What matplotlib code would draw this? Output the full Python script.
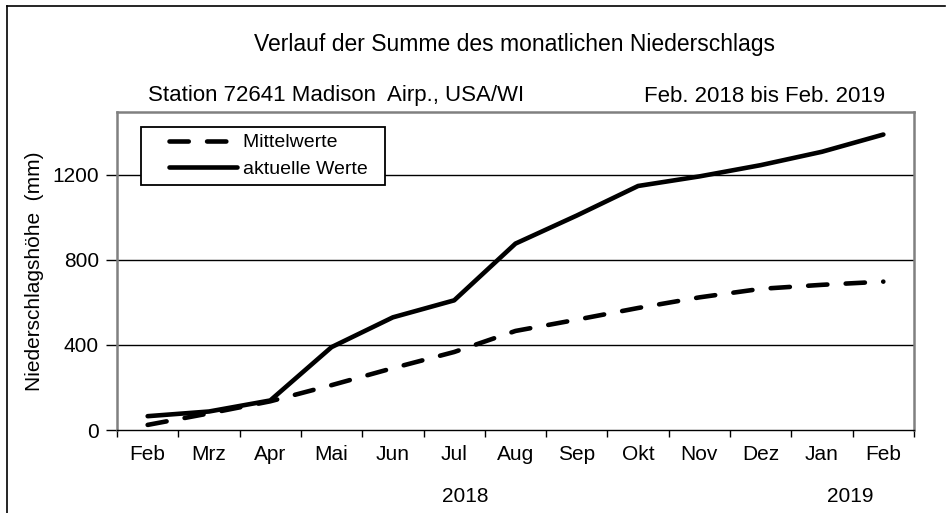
import matplotlib
matplotlib.use("Agg")
import matplotlib.pyplot as plt
from matplotlib.lines import Line2D
from matplotlib.legend_handler import HandlerLine2D

plt.rcParams['font.family'] = ['Liberation Sans', 'DejaVu Sans']

months = ["Feb", "Mrz", "Apr", "Mai", "Jun", "Jul", "Aug", "Sep", "Okt", "Nov", "Dez", "Jan", "Feb"]
mittelwerte = [24, 78, 135, 211, 291, 367, 466, 519, 574, 624, 664, 683, 698]
aktuelle = [65, 87, 139, 390, 530, 610, 877, 1009, 1148, 1193, 1246, 1309, 1390]
yticks = [0, 400, 800, 1200]

W, H = 947, 513
fig = plt.figure(figsize=(W / 100, H / 100), dpi=100)
ax = fig.add_axes([117 / W, (H - 430) / H, (914 - 117) / W, (430 - 112) / H])

x = list(range(len(months)))
l1, = ax.plot(x, mittelwerte, color="black", lw=3.3, dashes=(4.2, 4.0),
              dash_capstyle="round", label="Mittelwerte", zorder=3)
l2, = ax.plot(x, aktuelle, color="black", lw=3.3, solid_capstyle="round",
              solid_joinstyle="round", label="aktuelle Werte", zorder=3)

ax.set_xlim(-0.5, len(months) - 0.5)
ax.set_ylim(0, 1496)
ax.set_yticks(yticks)
ax.set_yticklabels([str(v) for v in yticks], fontsize=15)
for v in yticks[1:]:
    ax.axhline(v, color="black", lw=1.0, zorder=1)

ax.set_xticks(x)
ax.set_xticklabels(months, fontsize=15)
ax.set_xticks([i - 0.5 for i in range(len(months) + 1)], minor=True)
ax.tick_params(axis="x", which="major", length=0, pad=11)
ax.tick_params(axis="x", which="minor", length=5, width=1.0, direction="out", color="black")
ax.tick_params(axis="y", length=8, width=1.0, direction="out", color="black", pad=5)

for s in ["left", "right", "top"]:
    ax.spines[s].set_color("#808080")
    ax.spines[s].set_linewidth(1.8)
ax.spines["bottom"].set_color("black")
ax.spines["bottom"].set_linewidth(1.0)

ax.set_ylabel("Niederschlagshöhe  (mm)", fontsize=15, labelpad=6)

fs_leg = 14
xpad = 1.1
leg = ax.legend([l1, l2], ["Mittelwerte  ", "aktuelle Werte  "],
                loc="upper left",
                bbox_to_anchor=((141 - 117) / (914 - 117), (430 - 127) / (430 - 112)),
                fontsize=fs_leg, frameon=True, fancybox=False, edgecolor="black",
                framealpha=1.0,
                handlelength=3.5 + xpad, handletextpad=0.3, borderpad=0.35, labelspacing=0.45,
                borderaxespad=0,
                handler_map={Line2D: HandlerLine2D(xpad=xpad)})
leg.get_frame().set_linewidth(1.3)
leg.set_zorder(5)

fig.text(514 / W, 1 - 45 / H, "Verlauf der Summe des monatlichen Niederschlags",
         ha="center", va="center", fontsize=16.5)
fig.text(148 / W, 1 - 96 / H, "Station 72641 Madison  Airp., USA/WI",
         ha="left", va="center", fontsize=16)
fig.text(885 / W, 1 - 96 / H, "Feb. 2018 bis Feb. 2019",
         ha="right", va="center", fontsize=16)
fig.text(465 / W, 1 - 496 / H, "2018", ha="center", va="center", fontsize=15)
fig.text(850 / W, 1 - 496 / H, "2019", ha="center", va="center", fontsize=15)

fig.add_artist(Line2D([7 / W, 945 / W], [1 - 6 / H, 1 - 6 / H], transform=fig.transFigure,
                      color="black", lw=1.2))
fig.add_artist(Line2D([7 / W, 7 / W], [0, 1 - 6 / H], transform=fig.transFigure,
                      color="black", lw=1.2))

fig.savefig("out.png", dpi=100, facecolor="white")
